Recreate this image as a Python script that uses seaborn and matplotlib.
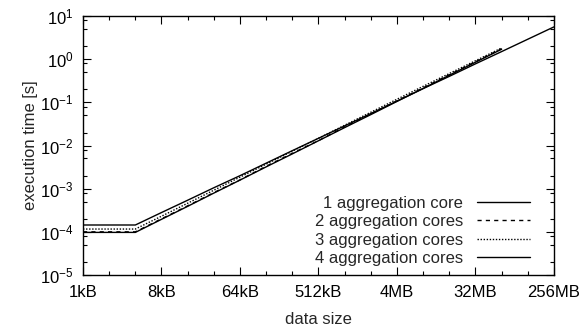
import numpy as np
import pandas as pd
import matplotlib
matplotlib.use("Agg")
import matplotlib.pyplot as plt
import matplotlib.ticker as mticker
import seaborn as sns

# data sizes in bytes (powers of two from 1kB)
sizes_1 = [2**k for k in range(10, 29)]          # 1kB .. 256MB
sizes_n = [2**k for k in range(10, 27)]          # 1kB .. 64MB

t_core1 = [1.44e-4, 1.44e-4, 1.44e-4, 2.8e-4, 5.4e-4, 1.05e-3, 2.0e-3, 3.9e-3,
           7.6e-3, 1.47e-2, 2.85e-2, 5.5e-2, 0.107, 0.208, 0.40, 0.78, 1.5, 2.9, 5.6]
t_core2 = [1.0e-4, 1.0e-4, 1.0e-4, 2.0e-4, 4.0e-4, 8.1e-4, 1.6e-3, 3.3e-3, 6.6e-3,
           1.3e-2, 2.7e-2, 5.4e-2, 0.108, 0.217, 0.435, 0.87, 1.75]
t_core3 = [1.16e-4, 1.16e-4, 1.16e-4, 2.3e-4, 4.6e-4, 9.2e-4, 1.85e-3, 3.7e-3, 7.4e-3,
           1.47e-2, 2.95e-2, 5.9e-2, 0.118, 0.235, 0.465, 0.92, 1.82]
t_core4 = [0.97e-4, 0.97e-4, 0.97e-4, 1.95e-4, 3.9e-4, 7.9e-4, 1.58e-3, 3.2e-3, 6.4e-3,
           1.29e-2, 2.6e-2, 5.2e-2, 0.105, 0.21, 0.425, 0.85, 1.7]

labels = ["1 aggregation core", "2 aggregation cores",
          "3 aggregation cores", "4 aggregation cores"]

xtick_vals = [2**10, 2**13, 2**16, 2**19, 2**22, 2**25, 2**28]
xtick_labels = ["1kB", "8kB", "64kB", "512kB", "4MB", "32MB", "256MB"]

frames = []
for lab, xs, ys in zip(labels, [sizes_1, sizes_n, sizes_n, sizes_n],
                       [t_core1, t_core2, t_core3, t_core4]):
    frames.append(pd.DataFrame({"size": xs, "time": ys, "series": lab}))
df = pd.concat(frames, ignore_index=True)

sns.set_style("ticks")
plt.rcParams["font.family"] = ["Liberation Sans", "DejaVu Sans"]
plt.rcParams["mathtext.default"] = "regular"

fig = plt.figure(figsize=(5.84, 3.31), dpi=100)
ax = fig.add_axes([83/584, 1-275/331, 471/584, 259/331])

sns.lineplot(data=df, x="size", y="time", hue="series", style="series",
             hue_order=labels, style_order=labels,
             palette=["black"]*4,
             dashes=["", (3, 3), (1, 1.2), ""],
             linewidth=1.0, ax=ax, legend=True)

ax.set_xscale("log", base=2)
ax.set_yscale("log")
ax.set_xlim(2**10, 2**28)
ax.set_ylim(1e-5, 1e1)

ax.set_xticks(xtick_vals)
ax.set_xticklabels(xtick_labels)
ax.xaxis.set_minor_locator(mticker.FixedLocator([2**k for k in range(10, 29)]))
ax.xaxis.set_minor_formatter(mticker.NullFormatter())
ax.yaxis.set_major_locator(mticker.LogLocator(base=10, numticks=20))
ax.yaxis.set_minor_locator(mticker.LogLocator(base=10, subs=(2, 5, 8), numticks=20))
ax.yaxis.set_minor_formatter(mticker.NullFormatter())

ax.tick_params(which="both", direction="in", top=True, right=True, labelsize=12,
               colors="black", width=0.8)
ax.tick_params(which="major", length=6, pad=7)
ax.tick_params(which="minor", length=3)
for sp in ax.spines.values():
    sp.set_linewidth(1.0)
    sp.set_color("black")

ax.set_xlabel("data size", fontsize=12, labelpad=9)
ax.set_ylabel("execution time [s]", fontsize=12, labelpad=1)

handles, labs = ax.get_legend_handles_labels()
ax.legend(handles, labs, loc="lower right", bbox_to_anchor=(0.949, 0.035),
          frameon=False, markerfirst=False, fontsize=12, handlelength=3.2,
          handletextpad=0.8, labelspacing=0.2, borderpad=0, borderaxespad=0)

fig.savefig("out.png", dpi=100)
